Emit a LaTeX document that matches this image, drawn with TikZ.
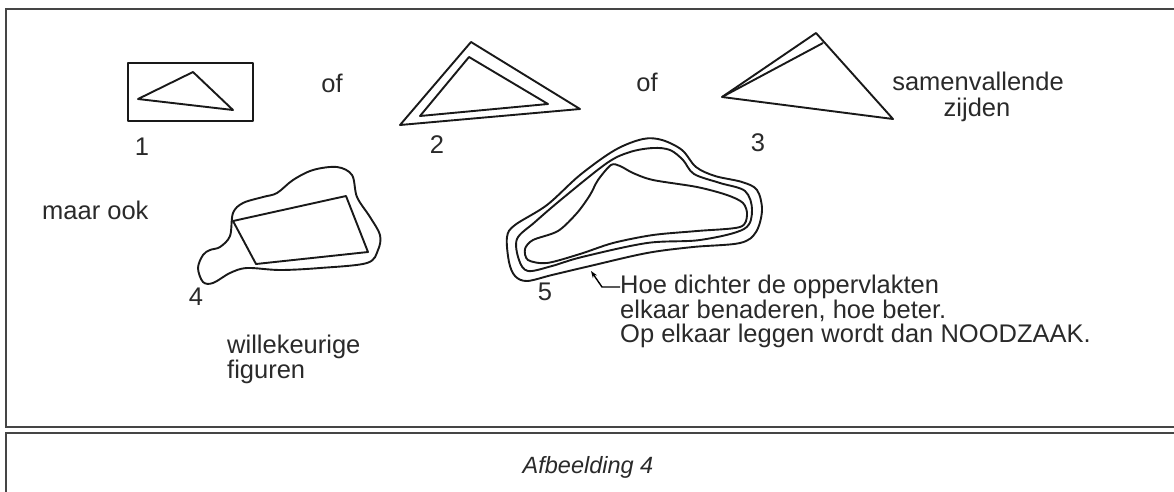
\documentclass[tikz,border=0pt]{standalone}
\usepackage{fontspec}
\setmainfont{Liberation Sans}
\usetikzlibrary{arrows.meta}
\definecolor{framecol}{HTML}{454545}
\definecolor{txtcol}{HTML}{2A2A2A}
\tikzset{
  frameline/.style={draw=framecol, line width=2.2pt},
  fig/.style={draw=black!90, line width=1.9pt, line join=round},
  lbl/.style={inner sep=0pt, text=txtcol, font=\fontsize{25.5}{28}\selectfont},
}
\begin{document}
\begin{tikzpicture}[x=1pt,y=-1pt]
\useasboundingbox (0,0) rectangle (1174,491);
\clip (0,0) rectangle (1174,491);
\fill[white] (0,0) rectangle (1174,491);
% frames
\draw[frameline] (1180,9) -- (6,9) -- (6,427) -- (1180,427);
\draw[frameline] (1180,433) -- (6,433) -- (6,500);

% figure 1
\draw[fig] (128,63) rectangle (253,121);
\draw[fig] (138,99) -- (193,72) -- (233,110) -- cycle;
\node[lbl, anchor=base] (n1) at (142,155) {1};
\node[lbl, anchor=base] (of1) at (332,92) {of};

% figure 2
\draw[fig] (400,125) -- (471,42) -- (580,109) -- cycle;
\draw[fig] (420,116) -- (469,57) -- (548,104) -- cycle;
\node[lbl, anchor=base] (n2) at (437,153) {2};
\node[lbl, anchor=base] (of2) at (647,91) {of};

% figure 3
\draw[fig] (722,97) -- (816,33) -- (893,119) -- cycle;
\draw[fig] (722,97) -- (823,43);
\node[lbl, anchor=base] (n3) at (758,151) {3};
\node[lbl, anchor=base] (sam) at (978,90) {samenvallende};
\node[lbl, anchor=base] (zij) at (977,116) {zijden};

% figure 4
\node[lbl, anchor=base west] (maar) at (42,219) {maar ook};
\draw[fig] plot[smooth cycle, tension=0.55] coordinates {
 (198,268) (203,255) (210,250) (220,247) (230,236) (233,213) (243,203)
 (263,197) (277,193) (293,180) (313,170) (337,167) (352,175) (357,197)
 (370,217) (380,235) (378,250) (367,263) (320,268) (280,270) (247,268)
 (230,273) (213,283) (203,282)};
\draw[fig] (233,221) -- (346,196) -- (368,252) -- (256,264) -- cycle;
\node[lbl, anchor=base] (n4) at (196,305) {4};
\node[lbl, anchor=base west] (wil) at (227,353) {willekeurige};
\node[lbl, anchor=base west] (fig) at (227,378) {figuren};

% figure 5
\draw[fig] plot[smooth cycle, tension=0.55] coordinates {
 (507,237) (509,262) (515,276) (527,281) (552,275) (590,266) (647,253)
 (693,247) (740,243) (756,232) (762,210) (757,190) (742,182) (715,176)
 (696,167) (682,150) (662,140) (643,139) (615,150) (580,175) (547,205) (515,225)};
\draw[fig] plot[smooth cycle, tension=0.55] coordinates {
 (517,239) (519,260) (528,271) (552,266) (582,257) (647,243) (700,240)
 (744,229) (752,210) (745,191) (720,183) (694,174) (683,160) (670,150)
 (653,148) (630,152) (607,163) (563,198) (535,222)};
\draw[fig] plot[smooth cycle, tension=0.5] coordinates {
 (611,165) (598,180) (590,195) (577,213) (558,231) (533,240) (525,249)
 (528,260) (547,263) (580,254) (613,243) (653,235) (697,231) (740,227)
 (747,215) (743,203) (727,195) (697,187) (653,180) (633,173) (620,166)};
\node[lbl, anchor=base] (n5) at (545,300) {5};

% note
\node[lbl, anchor=base west] (l1) at (620,293) {Hoe dichter de oppervlakten};
\node[lbl, anchor=base west] (l2) at (620,318) {elkaar benaderen, hoe beter.};
\node[lbl, anchor=base west] (l3) at (620,342) {Op elkaar leggen wordt dan NOODZAAK.};
\coordinate (tip) at (591,271);
\draw[line width=1.4pt, -{Stealth[length=7pt,width=5pt]}] (l1.west |- 0,287) -- (602,287) -- (tip);

% caption
\node[lbl, anchor=base, font=\fontsize{23.5}{26}\selectfont\itshape] (cap) at (588,473) {Afbeelding 4};
\end{tikzpicture}
\end{document}
